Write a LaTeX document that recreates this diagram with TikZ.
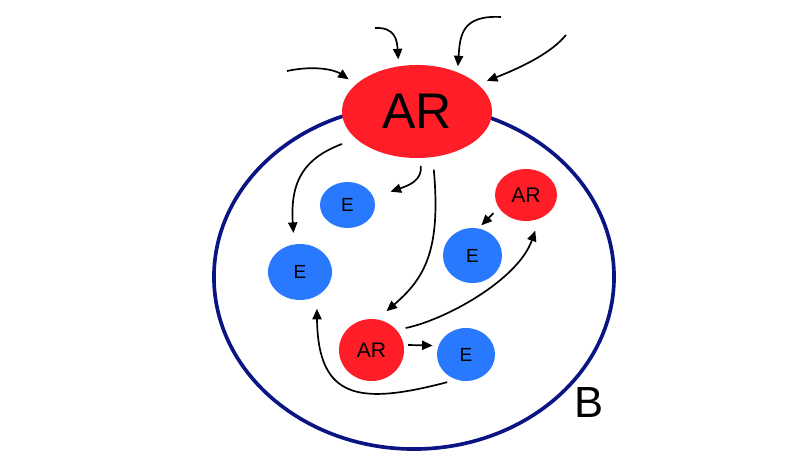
\documentclass[tikz,border=0pt]{standalone}
\usepackage{fontspec}
\setmainfont{Liberation Sans}
\usepackage{tikz}
\usetikzlibrary{positioning,arrows.meta,shapes.geometric}

\definecolor{arred}{RGB}{255,30,40}
\definecolor{eblue}{RGB}{41,121,255}
\definecolor{cellblue}{RGB}{10,20,130}

\tikzset{
  ar/.style={ellipse, fill=arred, inner sep=0pt, outer sep=0pt, font=\fontsize{15}{15}\selectfont},
  enz/.style={ellipse, fill=eblue, inner sep=0pt, outer sep=0pt, font=\fontsize{13.5}{14}\selectfont},
  flow/.style={line width=1.2pt, -{Triangle[length=7.5pt,width=6.5pt]}},
}

\begin{document}
\begin{tikzpicture}[x=0.025cm, y=-0.025cm]
    \useasboundingbox (0,0) rectangle (798,466);
    %% the cell
    \node[ellipse, draw=cellblue, line width=2.6pt, inner sep=0pt,
          minimum width=10cm, minimum height=8.6cm] (cell) at (414,277) {};
    \node[font=\fontsize{31}{31}\selectfont] (lblB) at (589,403) {B};

    %% receptors and effectors
    \node[ar, minimum width=3.75cm, minimum height=2.325cm,
          font=\fontsize{35.6}{36}\selectfont] (bigAR) at (417,111.5) {AR};
    \node[enz, minimum width=1.375cm, minimum height=1.15cm] (eA) at (347.5,205) {E};
    \node[enz, minimum width=1.6cm, minimum height=1.4cm] (eB) at (300,272) {E};
    \node[ar, minimum width=1.55cm, minimum height=1.3cm] (arB) at (526,195) {AR};
    \node[enz, minimum width=1.475cm, minimum height=1.375cm] (eC) at (472.5,255.5) {E};
    \node[ar, minimum width=1.625cm, minimum height=1.55cm] (arC) at (371.5,350) {AR};
    \node[enz, minimum width=1.45cm, minimum height=1.325cm] (eD) at (466,354.5) {E};

    %% signals from outside
    \coordinate (in1) at (287,71);
    \coordinate (in2) at (375,28);
    \coordinate (in3) at (501,17);
    \coordinate (in4) at (566,35);
    \draw[flow, shorten >=6.4pt] (in1) .. controls (315,65) and (335,70) .. (bigAR.156);
    \draw[flow, shorten >=5pt] (in2) .. controls (395,27) and (397,40) .. (bigAR.112);
    \draw[flow, shorten >=4.3pt] (in3) .. controls (462,15) and (460,35) .. (bigAR.44);
    \draw[flow, shorten >=6.8pt] (in4) .. controls (552,52) and (525,66) .. (bigAR.24);

    %% signals inside the cell
    \draw[flow, shorten <=10.7pt, shorten >=8.2pt] (bigAR.204) .. controls (305,158) and (290,180) .. (eB.102);
    \draw[flow, shorten <=5.7pt, shorten >=12.8pt] (bigAR.274) .. controls (422,180) and (410,185) .. (eA.16);
    \draw[flow, shorten <=9pt, shorten >=9pt] (bigAR.289) .. controls (441,250) and (425,278) .. (arC.80);
    \draw[flow, shorten <=5.5pt, shorten >=3.2pt] (arB.205) -- (eC.78);
    \draw[flow, shorten <=6.8pt, shorten >=9.2pt] (arC.39) .. controls (445,320) and (518,280) .. (arB.300);
    \draw[flow, shorten <=3.3pt, shorten >=4.3pt] (arC.9) -- (eD.162);
    \draw[flow, shorten <=7.1pt, shorten >=9.2pt] (eD.250) .. controls (360,405) and (318,400) .. (eB.305);

\end{tikzpicture}
\end{document}
